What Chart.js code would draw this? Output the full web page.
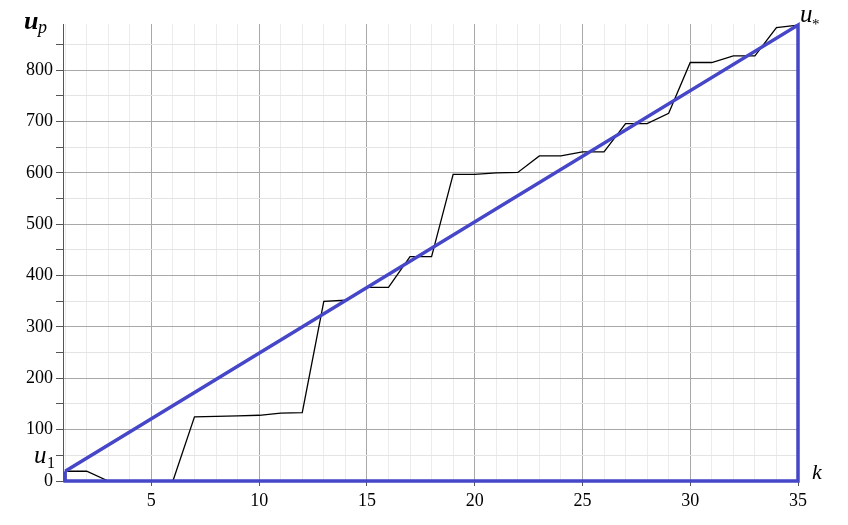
<!DOCTYPE html>
<html>
<head>
<meta charset="utf-8">
<script src="https://cdn.jsdelivr.net/npm/chart.js@4"></script>
<style>
  html, body { margin: 0; padding: 0; background: #fff; }
  #wrap { width: 848px; height: 525px; }
</style>
</head>
<body>
<div id="wrap"><canvas id="chart" width="848" height="525"></canvas></div>
<script>
// step index k and the values u_p
const kValues = [1, 2, 3, 4, 5, 6, 7, 8, 9, 10, 11, 12, 13, 14, 15, 16, 17, 18,
  19, 20, 21, 22, 23, 24, 25, 26, 27, 28, 29, 30, 31, 32, 33, 34, 35];
const upValues = [19, 19, 0, 0, 0, 0, 125, 126, 127, 128, 132, 133, 350, 352, 377, 377, 437, 437,
  597, 597, 600, 601, 633, 633, 641, 641, 696, 696, 716, 815, 815, 828, 828, 883, 888];

// blue triangle: u_1 -> u_* -> (35, 0) -> (1, 0) -> u_1
const hullK = [1, 35, 35, 1, 1];
const hullU = [19, 888, 0, 0, 19];

const xTicksMajor = [5, 10, 15, 20, 25, 30, 35];
const yTicksMajor = [0, 100, 200, 300, 400, 500, 600, 700, 800];

const serif = '"Liberation Serif", "Times New Roman", serif';

const toPoints = (xs, ys) => xs.map((x, i) => ({ x, y: ys[i] }));

const labelsPlugin = {
  id: 'mathLabels',
  afterDraw(chart) {
    const { ctx, chartArea, scales } = chart;
    ctx.save();
    ctx.fillStyle = '#000';
    ctx.textBaseline = 'alphabetic';
    ctx.textAlign = 'left';
    // u_p
    ctx.font = 'italic bold 26px ' + serif;
    ctx.fillText('u', 24, 29);
    ctx.font = 'italic 18px ' + serif;
    ctx.fillText('p', 38, 33);
    // u_1
    ctx.font = 'italic 25px ' + serif;
    ctx.fillText('u', 34, 463);
    ctx.font = '16px ' + serif;
    ctx.fillText('1', 47, 468);
    // u_*
    ctx.font = 'italic 25px ' + serif;
    ctx.fillText('u', chartArea.right + 2, 22);
    ctx.font = '15px ' + serif;
    ctx.fillText('*', chartArea.right + 14, 29);
    // k
    ctx.font = 'italic 22px ' + serif;
    ctx.fillText('k', chartArea.right + 14, scales.y.getPixelForValue(0) - 2);
    ctx.restore();
  }
};

new Chart(document.getElementById('chart').getContext('2d'), {
  type: 'scatter',
  data: {
    datasets: [
      {
        data: toPoints(hullK, hullU),
        showLine: true,
        borderColor: '#4646c8',
        borderWidth: 3.5,
        pointRadius: 0,
        tension: 0,
        clip: false
      },
      {
        data: toPoints(kValues, upValues),
        showLine: true,
        borderColor: '#000',
        borderWidth: 1.3,
        pointRadius: 0,
        tension: 0
      }
    ]
  },
  options: {
    responsive: false,
    animation: false,
    events: [],
    layout: { padding: { left: 0, top: 24, right: 50, bottom: 0 } },
    plugins: { legend: { display: false }, tooltip: { enabled: false } },
    scales: {
      x: {
        type: 'linear',
        min: 0.9,
        max: 35,
        afterFit: s => { s.height = 44; },
        afterBuildTicks: s => {
          s.ticks = kValues.map(v => ({ value: v }));
        },
        ticks: {
          autoSkip: false,
          maxRotation: 0,
          padding: 4,
          color: '#000',
          font: { family: serif, size: 18 },
          callback: v => (xTicksMajor.includes(v) ? String(v) : '')
        },
        grid: {
          tickLength: 5,
          color: c => (xTicksMajor.includes(c.tick.value) ? '#a8a8a8' : '#ececec'),
          tickColor: c => (xTicksMajor.includes(c.tick.value) ? '#555' : 'rgba(0,0,0,0)')
        },
        border: { color: '#555', width: 1 }
      },
      y: {
        type: 'linear',
        min: 0,
        max: 890,
        afterFit: s => { s.width = 63; },
        afterBuildTicks: s => {
          const t = [];
          for (let v = 0; v <= 850; v += 50) t.push({ value: v });
          s.ticks = t;
        },
        ticks: {
          autoSkip: false,
          padding: 3,
          color: '#000',
          font: { family: serif, size: 18 },
          callback: v => (yTicksMajor.includes(v) ? String(v) : '')
        },
        grid: {
          tickLength: 7,
          color: c => (yTicksMajor.includes(c.tick.value) ? '#a8a8a8' : '#e4e4e4'),
          tickColor: '#555'
        },
        border: { color: '#555', width: 1 }
      }
    }
  },
  plugins: [labelsPlugin]
});
</script>
</body>
</html>
